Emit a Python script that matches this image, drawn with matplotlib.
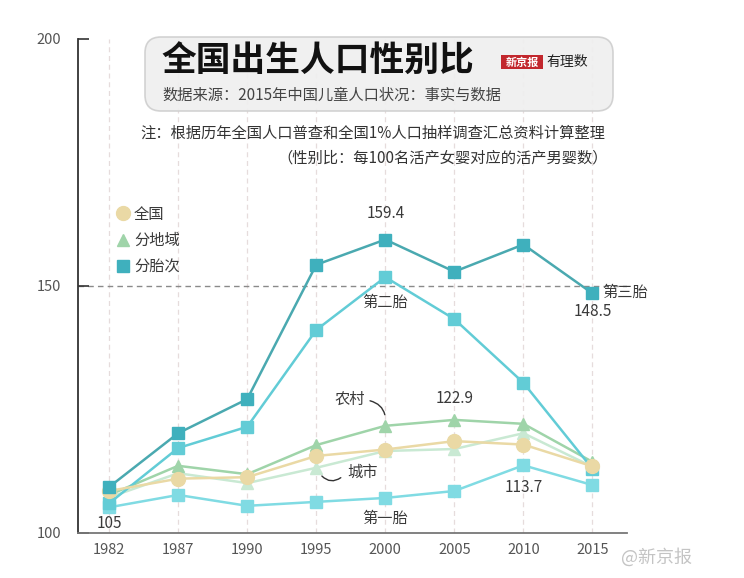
import matplotlib.pyplot as plt
from matplotlib.lines import Line2D
from matplotlib.patches import FancyBboxPatch, Rectangle

plt.rcParams['font.family'] = ['Noto Sans CJK SC', 'DejaVu Sans']

# data
years = ['1982', '1987', '1990', '1995', '2000', '2005', '2010', '2015']
national = [108.5, 111.0, 111.3, 115.6, 116.9, 118.6, 117.9, 113.5]
rural = [107.7, 113.6, 111.9, 117.8, 121.7, 122.9, 122.1, 114.4]
urban = [107.2, 112.1, 110.1, 113.2, 116.6, 117.0, 120.2, 113.4]
first_birth = [105.2, 107.7, 105.5, 106.3, 107.1, 108.5, 113.7, 109.7]
second_birth = [106.0, 117.2, 121.5, 141.1, 151.8, 143.3, 130.4, 113.0]
third_birth = [109.3, 120.2, 127.1, 154.3, 159.4, 152.9, 158.4, 148.5]
y_ticks = [100, 150, 200]

c_third = '#3fb0bd'
c_second = '#62ccd6'
c_first = '#80dbe3'
c_rural = '#9fd4a9'
c_urban = '#c9e9d3'
c_nat = '#ead9a5'
txt = '#3a3a3a'

fig = plt.figure(figsize=(7.44, 5.78), dpi=100)
ax = fig.add_axes([78 / 744, 45 / 578, 549 / 744, 494 / 578])
x = list(range(len(years)))

# vertical dashed guides + 150 reference line
for xi in x:
    ax.axvline(xi, color='#e6dcdc', lw=0.9, ls=(0, (4, 3)), zorder=0)
ax.axhline(150, color='#8a8a8a', lw=1.0, ls=(0, (4, 3)), zorder=1)

ax.plot(x, urban, color=c_urban, lw=1.8, marker='^', ms=8, zorder=3)
ax.plot(x, rural, color=c_rural, lw=1.8, marker='^', ms=8, zorder=3)
ax.plot(x, national, color=c_nat, lw=1.8, marker='o', ms=10, zorder=4)
ax.plot(x, first_birth, color=c_first, lw=1.8, marker='s', ms=8, zorder=3)
ax.plot(x, second_birth, color=c_second, lw=1.8, marker='s', ms=8, zorder=3)
ax.plot(x, third_birth, color='#4aa9b0', lw=1.8, marker='s', ms=8,
        mfc=c_third, mec=c_third, zorder=5)

ax.set_xlim(-0.45, 7.5)
ax.set_ylim(100, 200)
ax.set_xticks(x)
ax.set_xticklabels(years)
ax.set_yticks(y_ticks)
ax.tick_params(axis='x', length=0, pad=7, labelsize=10.5, labelcolor='#555555')
ax.tick_params(axis='y', direction='in', length=8, width=1.2, color='#333333',
               pad=12, labelsize=10.5, labelcolor='#555555')
for s in ['top', 'right']:
    ax.spines[s].set_visible(False)
ax.spines['left'].set_color('#333333')
ax.spines['left'].set_linewidth(1.3)
ax.spines['bottom'].set_color('#777777')
ax.spines['bottom'].set_linewidth(1.3)
ax.patch.set_alpha(0)


# point labels
def note(s, i, series, dx, dy, ha='center'):
    ax.annotate(s, (i, series[i]), xytext=(dx, dy), textcoords='offset pixels',
                ha=ha, va='center', fontsize=11, color=txt, zorder=6)


note('159.4', 4, third_birth, 0, 26)
note('第二胎', 4, second_birth, 0, -25)
note('第三胎', 7, third_birth, 10, 1, ha='left')
note('148.5', 7, third_birth, 0, -18)
note('122.9', 5, rural, 0, 21)
note('113.7', 6, first_birth, 0, -22)
note('第一胎', 4, first_birth, 0, -20)
note('105', 0, first_birth, 0, -16)
ax.annotate('农村', (4, rural[4]), xytext=(-36, 26), textcoords='offset pixels',
            ha='center', va='center', fontsize=11, color=txt,
            arrowprops=dict(arrowstyle='-', color='#333333', lw=1.0,
                            connectionstyle='arc3,rad=-0.5',
                            relpos=(1.0, 0.5), shrinkA=2, shrinkB=8))
ax.annotate('城市', (3, urban[3]), xytext=(31, -5), textcoords='offset pixels',
            ha='left', va='center', fontsize=11, color=txt)

# legend
handles = [
    Line2D([], [], ls='none', marker='o', ms=10, color=c_nat),
    Line2D([], [], ls='none', marker='^', ms=8, color=c_rural),
    Line2D([], [], ls='none', marker='s', ms=8, color=c_third),
]
fig.legend(handles, ['全国', '分地域', '分胎次'], loc='upper left',
           bbox_to_anchor=(108 / 744, 1 - 198 / 578), frameon=False,
           fontsize=11, labelcolor=txt, handlelength=0.9,
           handletextpad=0.3, labelspacing=0.62, borderpad=0)

# header drawn on a pixel-space overlay
ov = fig.add_axes([0, 0, 1, 1], zorder=10)
ov.set_xlim(0, 744)
ov.set_ylim(578, 0)
ov.axis('off')
ov.add_patch(FancyBboxPatch((145, 37), 468, 74,
                            boxstyle='round,pad=0,rounding_size=16',
                            fc='#efefef', ec='#cfcfcf', lw=1.2, alpha=0.92))
ov.text(161, 61, '全国出生人口性别比', fontsize=25, fontweight='bold',
        color='#111111', va='center', ha='left')
ov.text(162, 95, '数据来源：2015年中国儿童人口状况：事实与数据', fontsize=11,
        color='#444444', va='center', ha='left')
ov.add_patch(Rectangle((501, 55), 42, 14, fc='#c2272d', ec='none'))
ov.text(522, 62, '新京报', fontsize=8, color='white', fontweight='bold',
        va='center', ha='center')
ov.text(546, 62, '有理数', fontsize=10, color='#222222', style='italic',
        va='center', ha='left')
ov.text(605, 133, '注：根据历年全国人口普查和全国1%人口抽样调查汇总资料计算整理',
        fontsize=11, color='#333333', va='center', ha='right')
ov.text(608, 158, '（性别比：每100名活产女婴对应的活产男婴数）',
        fontsize=11, color='#333333', va='center', ha='right')
ov.annotate('', xy=(343, 476), xytext=(320, 474),
            arrowprops=dict(arrowstyle='-', color='#333333', lw=1.0,
                            connectionstyle='arc3,rad=0.5'))
ov.text(692, 557, '@新京报', fontsize=13, color='#c4c4c4', va='center',
        ha='right')

fig.savefig('out.png', dpi=100)
